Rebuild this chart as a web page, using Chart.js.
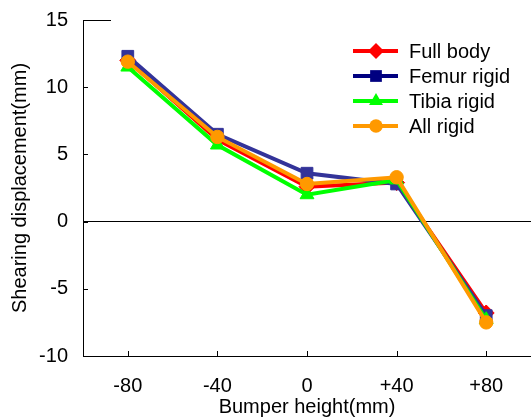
<!DOCTYPE html>
<html>
<head>
<meta charset="utf-8">
<script src="https://cdn.jsdelivr.net/npm/chart.js@4/dist/chart.umd.min.js"></script>
<style>
  html, body { margin: 0; padding: 0; background: #fff; }
  #c { display: block; }
</style>
</head>
<body>
<canvas id="c" width="531" height="419"></canvas>
<script>
// ---- data ----
const categories = ['-80', '-40', '0', '+40', '+80'];
const seriesNames = ['Full body', 'Femur rigid', 'Tibia rigid', 'All rigid'];
const fullBody   = [12.0, 6.1, 2.6, 2.9, -6.8];
const femurRigid = [12.3, 6.5, 3.6, 2.8, -7.0];
const tibiaRigid = [11.5, 5.7, 2.0, 3.1, -7.3];
const allRigid   = [11.9, 6.3, 2.8, 3.3, -7.5];
const yTickValues = [-10, -5, 0, 5, 10, 15];
const xTitle = 'Bumper height(mm)';
const yTitle = 'Shearing displacement(mm)';

// ---- styles ----
const FONT = '"Liberation Sans", Arial, sans-serif';
const styles = [
  { color: '#FF0000', legendColor: '#FF0000', point: 'rectRot', r: 8, order: 3 },
  { color: '#333399', legendColor: '#000080', point: 'rect', r: 8.3, order: 2 },
  { color: '#00FF00', legendColor: '#00FF00', point: 'triangle', r: 8, order: 1 },
  { color: '#FF9900', legendColor: '#FF9900', point: 'circle', r: 6.7, order: 0 }
];
const seriesData = [fullBody, femurRigid, tibiaRigid, allRigid];

const datasets = seriesNames.map((name, i) => ({
  label: name,
  data: seriesData[i],
  borderColor: styles[i].color,
  backgroundColor: styles[i].color,
  pointBackgroundColor: styles[i].color,
  pointBorderColor: styles[i].color,
  pointBorderWidth: 1,
  pointStyle: styles[i].point,
  pointRadius: styles[i].r,
  pointHoverRadius: styles[i].r,
  borderWidth: 4,
  tension: 0,
  order: styles[i].order,
  clip: false
}));

function drawMarker(ctx, style, r, x, y, color) {
  ctx.fillStyle = color;
  ctx.beginPath();
  if (style === 'circle') {
    ctx.arc(x, y, r, 0, Math.PI * 2);
  } else if (style === 'rect') {
    const s = Math.SQRT1_2 * r;
    ctx.rect(x - s, y - s, 2 * s, 2 * s);
  } else if (style === 'rectRot') {
    ctx.moveTo(x, y - r); ctx.lineTo(x + r, y); ctx.lineTo(x, y + r); ctx.lineTo(x - r, y);
    ctx.closePath();
  } else if (style === 'triangle') {
    ctx.moveTo(x, y - r);
    ctx.lineTo(x + r * Math.sin(Math.PI / 3), y + r / 2);
    ctx.lineTo(x - r * Math.sin(Math.PI / 3), y + r / 2);
    ctx.closePath();
  }
  ctx.fill();
}

const axisDecor = {
  id: 'axisDecor',
  beforeDatasetsDraw(chart) {
    const { ctx, chartArea, scales } = chart;
    const x = scales.x, y = scales.y;
    ctx.save();
    ctx.strokeStyle = '#000';
    ctx.lineWidth = 1;
    ctx.beginPath();
    y.ticks.forEach((t, i) => {
      const py = Math.round(y.getPixelForTick(i)) + 0.5;
      ctx.moveTo(chartArea.left, py);
      ctx.lineTo(chartArea.left + 5, py);
    });
    categories.forEach((c, i) => {
      const px = Math.round(x.getPixelForValue(i)) + 0.5;
      ctx.moveTo(px, chartArea.bottom);
      ctx.lineTo(px, chartArea.bottom - 5);
    });
    const ty = Math.round(chartArea.top) + 0.5;
    ctx.moveTo(chartArea.left, ty);
    ctx.lineTo(chartArea.left + 28, ty);
    ctx.stroke();
    ctx.restore();
  }
};

const customLegend = {
  id: 'customLegend',
  afterDraw(chart) {
    const { ctx } = chart;
    ctx.save();
    seriesNames.forEach((name, i) => {
      const yy = 51 + 25 * i;
      const st = styles[i];
      ctx.strokeStyle = st.legendColor;
      ctx.lineWidth = 4;
      ctx.beginPath();
      ctx.moveTo(353, yy);
      ctx.lineTo(398, yy);
      ctx.stroke();
      drawMarker(ctx, st.point, st.r, 376, yy, st.legendColor);
      ctx.fillStyle = '#000';
      ctx.font = '20px ' + FONT;
      ctx.textBaseline = 'middle';
      ctx.textAlign = 'left';
      ctx.fillText(name, 409, yy + 1);
    });
    ctx.restore();
  }
};

new Chart(document.getElementById('c'), {
  type: 'line',
  data: { labels: categories, datasets: datasets },
  options: {
    responsive: false,
    animation: false,
    devicePixelRatio: 1,
    layout: { autoPadding: false, padding: { top: 20, right: 0, left: 0, bottom: 0 } },
    plugins: {
      legend: { display: false },
      tooltip: { enabled: false }
    },
    scales: {
      x: {
        type: 'category',
        offset: true,
        grid: { display: false, drawTicks: false },
        border: { display: true, color: '#000', width: 1 },
        ticks: {
          color: '#000',
          font: { family: FONT, size: 20 },
          padding: 18,
          maxRotation: 0,
          autoSkip: false
        },
        title: {
          display: true,
          text: xTitle,
          color: '#000',
          font: { family: FONT, size: 20 },
          padding: { top: 0, bottom: 0 }
        },
        afterFit(s) {
          s.height = 63;
          s.paddingLeft = 0; s.paddingRight = 0;
        }
      },
      y: {
        min: -10,
        max: 15,
        afterBuildTicks(s) { s.ticks = yTickValues.map(v => ({ value: v })); },
        grid: {
          display: true,
          drawTicks: false,
          color: (ctx) => (ctx.tick && ctx.tick.value === 0 ? '#000' : 'rgba(0,0,0,0)'),
          lineWidth: 1
        },
        border: { display: true, color: '#000', width: 1 },
        ticks: {
          color: '#000',
          font: { family: FONT, size: 20 },
          padding: 15,
          callback: (v) => String(v)
        },
        title: {
          display: true,
          text: yTitle,
          color: '#000',
          font: { family: FONT, size: 20 },
          padding: { top: 8, bottom: 0 }
        },
        afterFit(s) {
          s.width = 83;
          s.paddingTop = 0; s.paddingBottom = 0;
        }
      }
    }
  },
  plugins: [axisDecor, customLegend]
});
</script>
</body>
</html>
